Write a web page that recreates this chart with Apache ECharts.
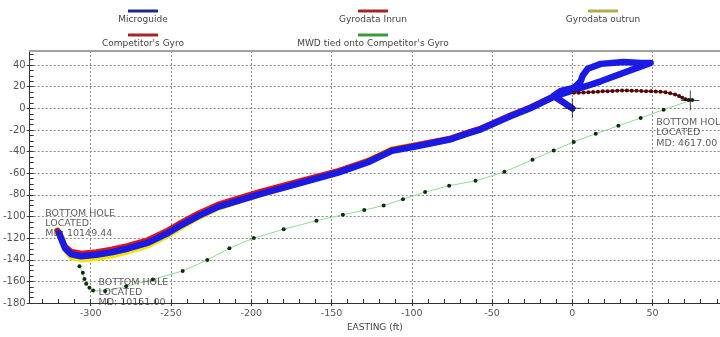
<!DOCTYPE html>
<html>
<head>
<meta charset="utf-8">
<script src="https://cdn.jsdelivr.net/npm/echarts@6/dist/echarts.min.js"></script>
<style>
  html, body { margin: 0; padding: 0; background: #fff; }
  #chart { width: 720px; height: 337px; }
</style>
</head>
<body>
<div id="chart"></div>
<script>
// legend / series names
const seriesNames = [
  "Microguide",
  "Gyrodata Inrun",
  "Gyrodata outrun",
  "Competitor's Gyro",
  "MWD tied onto Competitor's Gyro",
];

// [easting, northing] in ft
const microguide = [
  [0, 0], [-11.6, 11.6], [-7.2, 16.1], [0.9, 18.8], [5.2, 25.0], [6.5, 30.4],
  [9.6, 36.6], [17.7, 41.1], [32.0, 42.9], [42.6, 42.0], [48.8, 42.0], [17.7, 25.0],
  [-11.6, 10.7], [-25.9, 0.3], [-38.3, -7.1], [-48.9, -14.0], [-57.0, -19.4],
  [-65.1, -23.2], [-75.7, -28.6], [-96.2, -34.8], [-112.4, -39.3], [-127.3, -49.8],
  [-145.4, -59.2], [-169.0, -68.8], [-195.1, -79.5], [-220.7, -91.1], [-233.1, -99.6],
  [-243.8, -108.1], [-251.8, -115.2], [-258.0, -119.7], [-264.2, -124.1],
  [-276.7, -129.5], [-287.2, -133.1], [-296.6, -135.3], [-305.9, -136.7],
  [-312.1, -134.9], [-315.9, -129.5], [-317.8, -122.4], [-319.6, -115.2],
];

const gyroInrun = [
  [0, 0], [-11.6, 11.2], [-25.9, 1.0], [-38.3, -6.5], [-48.9, -13.3], [-57.0, -18.7],
  [-65.1, -22.5], [-75.7, -27.8], [-96.2, -33.9], [-112.4, -38.4], [-127.3, -48.8],
  [-145.4, -57.8], [-169.0, -67.0], [-195.1, -77.5], [-220.7, -89.0], [-233.1, -97.4],
  [-243.8, -105.8], [-251.8, -112.8], [-258.0, -117.3], [-264.2, -121.7],
  [-276.7, -127.1], [-287.2, -130.7], [-296.6, -132.9], [-305.9, -134.3],
  [-312.1, -132.5], [-316.5, -127.1], [-318.6, -120.0], [-320.6, -113.0],
];

const gyroOutrun = [
  [0, 0], [-11.6, 10.5], [-25.9, 0.0], [-38.3, -7.4], [-48.9, -14.2], [-57.0, -19.6],
  [-65.1, -23.4], [-75.7, -28.8], [-96.2, -33.6], [-112.4, -37.8], [-127.3, -48.2],
  [-145.4, -58.0], [-169.0, -68.6], [-195.1, -80.0], [-220.7, -92.0], [-233.1, -101.0],
  [-243.8, -109.8], [-251.8, -117.2], [-258.0, -122.0], [-264.2, -126.6],
  [-276.7, -132.3], [-287.2, -136.0], [-296.6, -138.3], [-305.9, -139.6],
  [-312.1, -137.6], [-315.0, -132.0], [-316.6, -125.5], [-317.8, -119.5],
];

const competitorGyro = [
  [1, 14.3], [4, 14.4], [7, 14.6], [10, 14.8], [13, 15.1], [16, 15.4], [19, 15.7],
  [22, 15.9], [25, 16.1], [28, 16.3], [31, 16.4], [34, 16.4], [37, 16.3], [40, 16.2],
  [43, 16.1], [46, 15.9], [49, 15.8], [52, 15.6], [55, 15.3], [58, 14.8], [61, 14.0],
  [64, 12.8], [66.5, 11.3], [68.5, 9.8], [70.5, 8.5], [72.5, 7.6],
];

const mwdTied = [
  [74.7, 7.8], [56.9, -1.2], [42.6, -8.9], [28.7, -16.1], [14.6, -23.5], [0.9, -31.0],
  [-11.6, -38.9], [-24.8, -47.5], [-42.3, -58.7], [-60.3, -67.0], [-76.7, -71.5],
  [-91.7, -77.4], [-105.5, -84.0], [-117.5, -89.8], [-129.6, -94.0], [-142.9, -98.4],
  [-159.4, -103.8], [-179.8, -111.8], [-198.4, -119.9], [-213.6, -129.3],
  [-227.4, -140.2], [-242.7, -150.3], [-261.3, -158.1], [-277.9, -164.4],
  [-291.0, -168.8], [-298.5, -168.4], [-300.8, -165.7], [-302.8, -162.1],
  [-303.9, -157.7], [-304.9, -151.9], [-307.0, -146.0],
];

const crossPoints = [[0, 0], [73.5, 7.2]];

const noteTexts = [
  "BOTTOM HOLE\nLOCATED\nMD: 10149.44",
  "BOTTOM HOLE\nLOCATED\nMD: 10151.00",
  "BOTTOM HOLE\nLOCATED\nMD: 4617.00",
];
const notePoints = [[-319.6, -115.2], [-307.0, -146.0], [73.5, 7.2]];

// axis ticks
const eastingTicks = [-300, -250, -200, -150, -100, -50, 0, 50];
const eastingMinorTicks = [
  -330, -320, -310, -300, -290, -280, -270, -260, -250, -240, -230, -220, -210,
  -200, -190, -180, -170, -160, -150, -140, -130, -120, -110, -100, -90, -80, -70,
  -60, -50, -40, -30, -20, -10, 0, 10, 20, 30, 40, 50, 60, 70, 80, 90,
];
const northingTicks = [-180, -160, -140, -120, -100, -80, -60, -40, -20, 0, 20, 40];
const northingMinorTicks = [
  -175, -170, -165, -160, -155, -150, -145, -140, -135, -130, -125, -120, -115,
  -110, -105, -100, -95, -90, -85, -80, -75, -70, -65, -60, -55, -50, -45, -40,
  -35, -30, -25, -20, -15, -10, -5, 0, 5, 10, 15, 20, 25, 30, 35, 40, 45, 50,
];

const FONT = "DejaVu Sans";
const legendBarColors = ["#1f2a8a", "#a82424", "#b0ae4a", "#a82424", "#3c9a3c"];

const chart = echarts.init(document.getElementById("chart"));

const legendRich = { t: { fontFamily: FONT, fontSize: 9, color: "#444", width: 220, align: "center", lineHeight: 12 } };
legendBarColors.forEach((c, i) => {
  legendRich["b" + i] = { width: 30, height: 3, lineHeight: 5, backgroundColor: c, align: "center" };
});

const option = {
  animation: false,
  grid: { left: 28, right: 0, top: 51, bottom: 24.5 },
  legend: {
    data: seriesNames,
    left: 28,
    top: 5,
    width: 700,
    padding: 0,
    itemGap: 5,
    itemWidth: 0,
    itemHeight: 1,
    icon: "rect",
    itemStyle: { opacity: 0 },
    lineStyle: { opacity: 0 },
    selectedMode: false,
    formatter: (name) => "{b" + seriesNames.indexOf(name) + "|}\n{t|" + name + "}",
    textStyle: { rich: legendRich },
  },
  xAxis: [
    {
      type: "value",
      min: -338,
      max: 92,
      position: "bottom",
      name: "EASTING (ft)",
      nameLocation: "middle",
      nameGap: 17,
      nameTextStyle: { fontFamily: FONT, fontSize: 9, color: "#444" },
      axisLine: { onZero: false, lineStyle: { color: "#333", width: 1 } },
      axisTick: { customValues: eastingTicks, length: 3, lineStyle: { color: "#333" } },
      axisLabel: { customValues: eastingTicks, fontFamily: FONT, fontSize: 9.5, color: "#555", margin: 5 },
      splitLine: { show: true, lineStyle: { color: "#888", type: [2, 2], width: 1 } },
    },
    {
      type: "value",
      min: -338,
      max: 92,
      position: "bottom",
      axisLine: { show: false, onZero: false },
      axisTick: { customValues: eastingMinorTicks, inside: true, length: 4, lineStyle: { color: "#333" } },
      axisLabel: { show: false },
      splitLine: { show: false },
    },
    {
      type: "value",
      min: -338,
      max: 92,
      position: "top",
      axisLine: { onZero: false, lineStyle: { color: "#a0a0a0", width: 2 } },
      axisTick: { show: false },
      axisLabel: { show: false },
      splitLine: { show: false },
    },
  ],
  yAxis: [
    {
      type: "value",
      min: -180,
      max: 53,
      position: "left",
      axisLine: { show: true, onZero: false, lineStyle: { color: "#333", width: 1 } },
      axisTick: { show: true, customValues: northingTicks, length: 3, lineStyle: { color: "#333" } },
      axisLabel: { customValues: northingTicks, fontFamily: FONT, fontSize: 10, color: "#555", margin: 4 },
      splitLine: { show: true, lineStyle: { color: "#888", type: [2, 2], width: 1 } },
    },
    {
      type: "value",
      min: -180,
      max: 53,
      position: "left",
      axisLine: { show: false, onZero: false },
      axisTick: { show: true, customValues: northingMinorTicks, inside: true, length: 4, lineStyle: { color: "#333" } },
      axisLabel: { show: false },
      splitLine: { show: false },
    },
  ],
  series: [
    {
      name: seriesNames[2],
      type: "line",
      data: gyroOutrun,
      showSymbol: false,
      z: 2,
      color: "#f2e600",
      lineStyle: { width: 6, color: "#f2e600", cap: "round", join: "round" },
    },
    {
      name: seriesNames[1],
      type: "line",
      data: gyroInrun,
      showSymbol: false,
      z: 3,
      color: "#e01414",
      lineStyle: { width: 6, color: "#e01414", cap: "round", join: "round" },
    },
    {
      name: seriesNames[0],
      type: "line",
      data: microguide,
      showSymbol: false,
      z: 4,
      color: "#1a1ae6",
      lineStyle: { width: 6.5, color: "#1a1ae6", cap: "round", join: "round" },
    },
    {
      name: seriesNames[3],
      type: "line",
      data: competitorGyro,
      symbol: "circle",
      symbolSize: 4,
      z: 5,
      color: "#4a0808",
      itemStyle: { color: "#4a0808" },
      lineStyle: { width: 1.5, color: "#9a1414" },
    },
    {
      name: seriesNames[4],
      type: "line",
      data: mwdTied,
      symbol: "circle",
      symbolSize: 4,
      z: 5,
      color: "#0c2e0c",
      itemStyle: { color: "#0c2e0c" },
      lineStyle: { width: 1, color: "#8fdc8f" },
    },
    {
      name: "crosses",
      type: "scatter",
      data: crossPoints,
      symbol: "path://M0,10L20,10M10,0L10,20",
      symbolSize: [18, 20],
      z: 6,
      silent: true,
      itemStyle: { color: "none", borderColor: "#111", borderWidth: 1 },
    },
    {
      name: "notes",
      type: "scatter",
      symbolSize: 0,
      silent: true,
      z: 7,
      data: [
        { value: notePoints[0], label: { position: [-14, -25] } },
        { value: notePoints[1], label: { position: [19, 11] } },
        { value: notePoints[2], label: { position: [-34, 17] } },
      ],
      label: {
        show: true,
        formatter: (p) => noteTexts[p.dataIndex],
        fontFamily: FONT,
        fontSize: 9.5,
        lineHeight: 10.2,
        color: "#333",
      },
    },
  ],
};

chart.setOption(option);
window.addEventListener("resize", () => chart.resize());
</script>
</body>
</html>
